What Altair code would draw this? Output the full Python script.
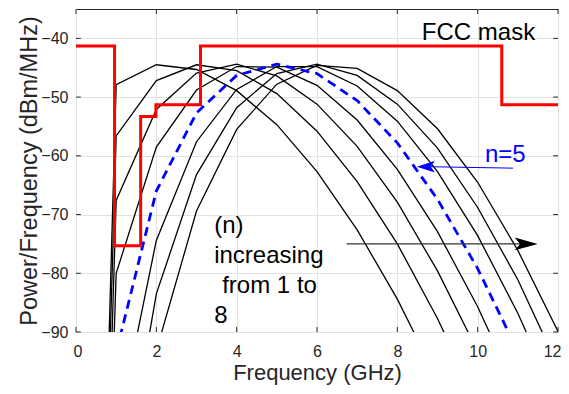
import altair as alt
import pandas as pd

# ---- data ----
freq = [0, 1, 2, 3, 4, 5, 6, 7, 8, 9, 10, 11, 12]
n1 = [-290, -47.9, -44.5, -45.3, -48.9, -54.7, -62.7, -72.6, -84.4, -98.1, -113.6, -131.0, -150.1]
n2 = [-290, -56.6, -47.2, -44.5, -45.5, -49.4, -55.8, -64.4, -75.0, -87.7, -102.3, -118.8, -137.2]
n3 = [-290, -67.6, -52.1, -45.9, -44.4, -46.4, -51.2, -58.4, -67.9, -79.6, -93.3, -109.0, -126.6]
n4 = [-290, -80.0, -58.5, -48.8, -44.8, -44.9, -48.0, -53.9, -62.3, -72.9, -85.7, -100.6, -117.4]
n5 = [-290, -93.5, -66.0, -52.7, -46.3, -44.4, -46.0, -50.6, -57.8, -67.4, -79.2, -93.3, -109.4]
n6 = [-290, -107.9, -74.4, -57.6, -48.7, -44.8, -44.8, -48.1, -54.1, -62.7, -73.6, -86.8, -102.2]
n7 = [-290, -123.1, -83.5, -63.2, -51.8, -46.0, -44.4, -46.3, -51.2, -58.7, -68.8, -81.1, -95.8]
n8 = [-290, -138.8, -93.2, -69.4, -55.5, -47.8, -44.6, -45.1, -48.9, -55.4, -64.5, -76.1, -89.9]

mask_f = [0, 0.96, 0.96, 1.61, 1.61, 1.99, 1.99, 3.1, 3.1, 10.6, 10.6, 12]
mask_p = [-41.3, -41.3, -75.3, -75.3, -53.3, -53.3, -51.3, -51.3, -41.3, -41.3, -51.3, -51.3]

x_ticks = [0, 2, 4, 6, 8, 10, 12]
y_ticks = [-90, -80, -70, -60, -50, -40]
x_domain = [0, 12]
y_domain = [-90, -35]

note_lines = ["(n)", "increasing", "from 1 to", "8"]
note_x = [3.44, 3.44, 3.64, 3.44]
note_y = [-73.2, -78.3, -83.4, -88.5]

FONT = "Liberation Sans"
AX = "#262626"

black_series = {1: n1, 2: n2, 3: n3, 4: n4, 6: n6, 7: n7, 8: n8}
rows = []
for n, vals in black_series.items():
    for f, p in zip(freq, vals):
        rows.append({"n": n, "f": f, "p": p})
df_black = pd.DataFrame(rows)
df_blue = pd.DataFrame({"f": freq, "p": n5})
df_mask = pd.DataFrame({"f": mask_f, "p": mask_p, "o": list(range(len(mask_f)))})

xs = alt.Scale(domain=x_domain, nice=False, zero=False)
ys = alt.Scale(domain=y_domain, nice=False, zero=False)
x_axis = alt.Axis(values=x_ticks, title="Frequency (GHz)", labelPadding=11, titlePadding=3,
                  labelFlush=True, labelFlushOffset=3)
y_axis = alt.Axis(values=y_ticks, title="Power/Frequency (dBm/MHz)", labelPadding=8,
                  titlePadding=-1, titleFontSize=23.5, labelFlush=False)

X = alt.X("f:Q", scale=xs, axis=x_axis)
Y = alt.Y("p:Q", scale=ys, axis=y_axis)


def XD(v):
    return alt.XDatum(v, scale=xs, axis=x_axis, type="quantitative")


def YD(v):
    return alt.YDatum(v, scale=ys, axis=y_axis, type="quantitative")


black = alt.Chart(df_black).mark_line(color="black", strokeWidth=1.3, clip=True).encode(
    x=X, y=Y, detail="n:N", order="f:Q")
blue = alt.Chart(df_blue).mark_line(color="#0000ff", strokeWidth=2.8, strokeDash=[9, 6],
                                    clip=True).encode(x=X, y=Y, order="f:Q")
mask = alt.Chart(df_mask).mark_line(color="#ff0000", strokeWidth=3, clip=True,
                                    strokeCap="square").encode(x=X, y=Y, order="o:Q")

# inward ticks
tick_len_y = 0.85
tick_len_x = 0.12
df_xt = pd.DataFrame({"f": x_ticks})
df_yt = pd.DataFrame({"p": y_ticks})
xt_bot = alt.Chart(df_xt).mark_rule(color=AX, strokeWidth=1).encode(
    x=X, y=YD(y_domain[0]), y2=alt.datum(y_domain[0] + tick_len_y))
xt_top = alt.Chart(df_xt).mark_rule(color=AX, strokeWidth=1).encode(
    x=X, y=YD(y_domain[1]), y2=alt.datum(y_domain[1] - tick_len_y))
yt_l = alt.Chart(df_yt).mark_rule(color=AX, strokeWidth=1).encode(
    y=Y, x=XD(x_domain[0]), x2=alt.datum(x_domain[0] + tick_len_x))
yt_r = alt.Chart(df_yt).mark_rule(color=AX, strokeWidth=1).encode(
    y=Y, x=XD(x_domain[1]), x2=alt.datum(x_domain[1] - tick_len_x))

# annotations
df_fcc = pd.DataFrame({"f": [8.61], "p": [-40.2], "t": ["FCC mask"]})
fcc = alt.Chart(df_fcc).mark_text(align="left", baseline="alphabetic", font=FONT,
                                  fontSize=24, color="black").encode(x=X, y=Y, text="t:N")

df_n5 = pd.DataFrame({"f": [10.18], "p": [-61.1], "t": ["n=5"]})
n5txt = alt.Chart(df_n5).mark_text(align="left", baseline="alphabetic", font=FONT,
                                   fontSize=24, color="#0000ff").encode(x=X, y=Y, text="t:N")

df_inc = pd.DataFrame({"f": note_x, "p": note_y, "t": note_lines})
inc = alt.Chart(df_inc).mark_text(align="left", baseline="alphabetic", font=FONT,
                                  fontSize=24, color="black").encode(x=X, y=Y, text="t:N")

df_barrow = pd.DataFrame({"f": [6.74], "f2": [11.2], "p": [-75.0]})
barrow = alt.Chart(df_barrow).mark_rule(color="#333333", strokeWidth=1.3).encode(
    x=X, x2="f2:Q", y=Y)
df_bhead = pd.DataFrame({"f": [11.21], "p": [-75.0]})
bhead = alt.Chart(df_bhead).mark_point(
    shape="M1,0 L-1,-0.55 L-0.55,0 L-1,0.55 Z", size=529, filled=True,
    color="black", opacity=1).encode(x=X, y=Y)

df_narrow = pd.DataFrame({"f": [10.88], "f2": [8.75], "p": [-62.1], "p2": [-61.85]})
narrow = alt.Chart(df_narrow).mark_rule(color="#0000ff", strokeWidth=1).encode(
    x=X, x2="f2:Q", y=Y, y2="p2:Q")
df_nhead = pd.DataFrame({"f": [8.71], "p": [-61.85]})
nhead = alt.Chart(df_nhead).mark_point(
    shape="M-1,0 L1,-0.65 L0.55,0 L1,0.65 Z", size=324, filled=True,
    color="#0000ff", opacity=1).encode(x=X, y=Y)

chart = alt.layer(black, blue, mask, xt_bot, xt_top, yt_l, yt_r,
                  fcc, n5txt, inc, barrow, bhead, narrow, nhead).properties(
    width=482, height=323,
    autosize=alt.AutoSizeParams(type="none"),
    padding={"left": 68, "top": 1, "right": 3, "bottom": 54},
).configure_view(stroke=AX, strokeWidth=1).configure_axis(
    grid=True, gridColor="#e2e2e2", gridWidth=1, domain=False, ticks=False,
    labelFont=FONT, labelFontSize=16, labelColor=AX,
    titleFont=FONT, titleFontSize=22, titleFontWeight="normal", titleColor=AX,
)

chart.save("out.html", embed_options={"renderer": "svg", "actions": False})
